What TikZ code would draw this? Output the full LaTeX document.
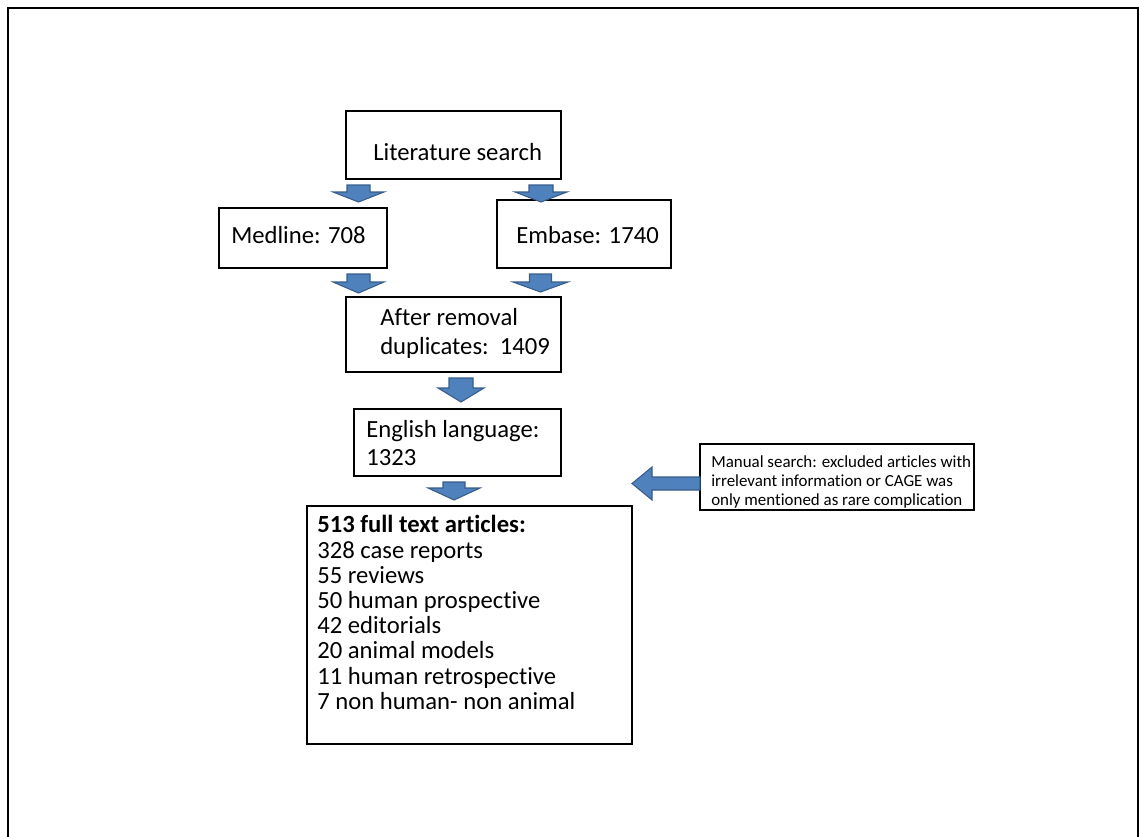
\documentclass[tikz,border=0pt]{standalone}
\usepackage{fontspec}
\setmainfont{Carlito}[Ligatures={NoCommon}]
\definecolor{blkfill}{HTML}{4F81BD}
\definecolor{blkline}{HTML}{385D8A}
\tikzset{
  box/.style={draw=black, line width=1.5pt, fill=white},
  txt/.style={inner sep=0pt, anchor=base west, align=left, font=\fontsize{18.5}{19}\selectfont},
  smalltxt/.style={inner sep=0pt, anchor=base west, align=left, font=\fontsize{12.7}{14.4}\selectfont},
  blk/.style={fill=blkfill, draw=blkline, line width=0.8pt, line join=miter},
}
% down block arrow: cx, top, headstart, tip, half shaft, half head
\newcommand\dnblk[6]{%
  \draw[blk] ({#1-#5},{#2}) -- ({#1+#5},{#2}) -- ({#1+#5},{#3}) -- ({#1+#6},{#3})
     -- ({#1},{#4}) -- ({#1-#6},{#3}) -- ({#1-#5},{#3}) -- cycle;}
\begin{document}
\begin{tikzpicture}[x=0.75pt,y=-0.75pt]
\useasboundingbox (0,0) rectangle (1139,836);
% frame
\draw[line width=2.2pt] (8,850) -- (8,8) -- (1138,8) -- (1138,850);

% boxes
\draw[box] (346,111) rectangle (561,179);
\node[inner sep=0pt] (lit) at (453.5,145) {};
\draw[box] (219,208) rectangle (387,268);
\node[inner sep=0pt] (med) at (303,238) {};
\draw[box] (497,200) rectangle (671,268);
\node[inner sep=0pt] (emb) at (584,234) {};
\draw[box] (346,297) rectangle (561,372);
\node[inner sep=0pt] (dup) at (453.5,334.5) {};
\draw[box] (354,409) rectangle (561,476);
\node[inner sep=0pt] (eng) at (457.5,442.5) {};
\draw[box] (307,506) rectangle (632,744);
\node[inner sep=0pt] (full) at (469.5,625) {};
\draw[box] (700,444) rectangle (974,510);
\node[inner sep=0pt] (man) at (837,477) {};

% texts (multi-line nodes: base = last line)
\node[txt] (litT) at (373,160.5) {Literature search};
\node[txt] (medT) at (231,243) {Medline: 708};
\node[txt] (embT) at (516,243) {Embase: 1740};
\node[txt, font=\fontsize{18.5}{21.75}\selectfont] (dupT) at (380,354) {After removal\\duplicates:\hspace{0.45em}1409};
\node[txt, font=\fontsize{18.5}{21}\selectfont] (engT) at (366,465) {English language:\\1323};
\node[txt, font=\fontsize{18.5}{18.9}\selectfont] (fullT) at (317,709.3) {\textbf{513 full text articles:}\\328 case reports\\55 reviews\\50 human prospective\\42 editorials\\20 animal models\\11 human retrospective\\7 non human- non animal};
\node[smalltxt] (manT) at (711,505.7) {Manual search: excluded articles with\\irrelevant information or CAGE was\\only mentioned as rare complication};

% block arrows
\dnblk{358.5}{185}{192}{202}{11.5}{25.5}
\dnblk{541}{185}{192}{202}{12}{26}
\dnblk{358.5}{274}{282}{293}{11.5}{25.5}
\dnblk{540.5}{274}{282}{292}{11}{27.5}
\dnblk{461}{378}{388}{402}{12}{23}
\dnblk{454}{482}{488}{500}{11}{26}
% left arrow from manual search box
\draw[blk] (700,477) -- (652,477) -- (652,467) -- (632,483.5) -- (652,500) -- (652,490) -- (700,490) -- cycle;
\end{tikzpicture}
\end{document}
